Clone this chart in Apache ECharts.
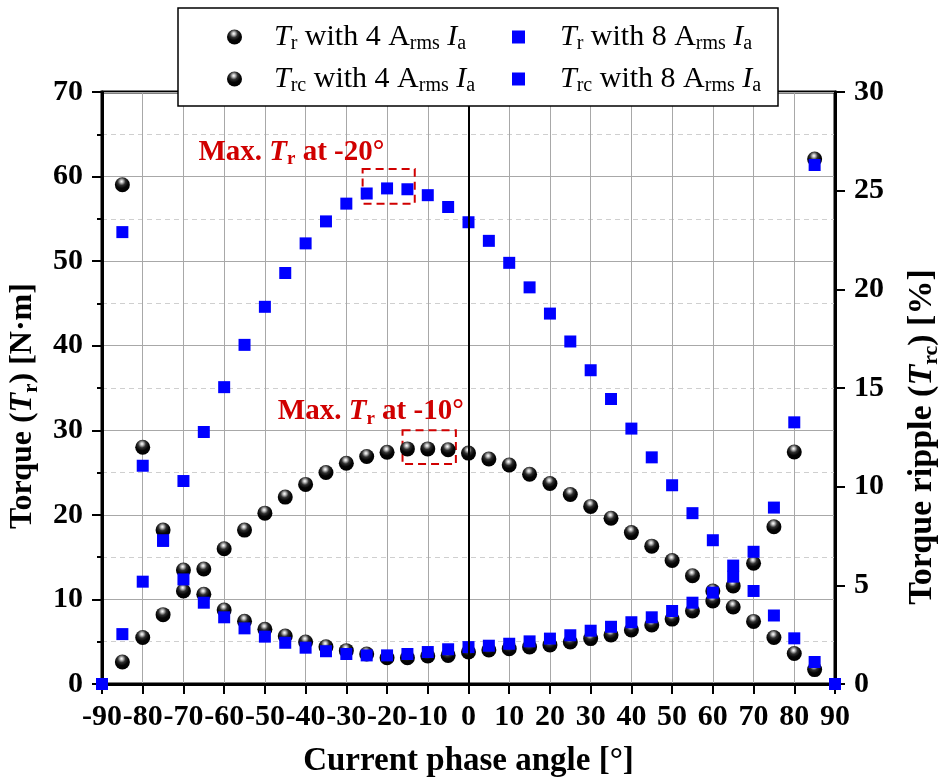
<!DOCTYPE html>
<html><head><meta charset="utf-8">
<script src="https://cdn.jsdelivr.net/npm/echarts@6/dist/echarts.min.js"></script>
<style>html,body{margin:0;padding:0;background:#fff}#c{width:941px;height:781px}</style>
</head><body><div id="c"></div>
<script>
// ---- data ----
const angles = [-90,-85,-80,-75,-70,-65,-60,-55,-50,-45,-40,-35,-30,-25,-20,-15,-10,-5,0,5,10,15,20,25,30,35,40,45,50,55,60,65,70,75,80,85,90];
const trWith4A = [null,2.6,5.5,8.2,11.0,13.6,16.0,18.2,20.2,22.1,23.6,25.0,26.1,26.9,27.4,27.8,27.8,27.7,27.3,26.6,25.9,24.8,23.7,22.4,21.0,19.6,17.9,16.3,14.6,12.8,11.0,9.1,7.4,5.5,3.6,1.7,null];
const trcWith4A = [null,25.3,12.0,7.8,5.78,4.55,3.75,3.18,2.77,2.43,2.13,1.89,1.69,1.52,1.33,1.33,1.42,1.45,1.62,1.72,1.79,1.88,1.98,2.13,2.30,2.48,2.74,2.99,3.29,3.70,4.21,4.97,6.12,7.97,11.76,26.6,null];
const trWith8A = [0,5.9,12.1,17.0,24.0,29.8,35.1,40.1,44.6,48.6,52.1,54.7,56.8,58.0,58.6,58.5,57.8,56.4,54.6,52.4,49.8,46.9,43.8,40.5,37.1,33.7,30.2,26.8,23.5,20.2,17.0,14.0,11.0,8.1,5.4,2.6,0];
const trcWith8A = [null,22.9,11.06,7.25,5.3,4.12,3.38,2.82,2.40,2.09,1.84,1.66,1.52,1.45,1.45,1.52,1.62,1.76,1.87,1.94,2.04,2.16,2.30,2.47,2.70,2.90,3.13,3.38,3.70,4.12,4.63,5.44,6.70,8.94,13.26,26.3,null];
const seriesNames = ['Tr with 4 Arms Ia','Trc with 4 Arms Ia','Tr with 8 Arms Ia','Trc with 8 Arms Ia'];
const legendTexts = {
  'Tr with 4 Arms Ia': '{g| }{it|T}{sub|r}{n| with 4 A}{sub|rms}{n| }{it|I}{sub|a}',
  'Trc with 4 Arms Ia': '{g| }{it|T}{sub|rc}{n| with 4 A}{sub|rms}{n| }{it|I}{sub|a}',
  'Tr with 8 Arms Ia': '{g| }{it|T}{sub|r}{n| with 8 A}{sub|rms}{n| }{it|I}{sub|a}',
  'Trc with 8 Arms Ia': '{g| }{it|T}{sub|rc}{n| with 8 A}{sub|rms}{n| }{it|I}{sub|a}'
};
const peak8A = {label: 'Max. {bi|T}{bs|r} at -20°', box: [[-26, 60.9], [-13.2, 56.8]], textAt: [-43.5, 62.9]};
const peak4A = {label: 'Max. {bi|T}{bs|r} at -10°', box: [[-16.2, 30.0], [-3.1, 26.0]], textAt: [-24.0, 32.2]};

// ---- styles ----
const SERIF = "'Liberation Serif','Times New Roman',serif";
const RED = '#d00000';
const sphere = new echarts.graphic.RadialGradient(0.45, 0.28, 0.75, [
  {offset: 0, color: '#ffffff'},
  {offset: 0.12, color: '#c8c8c8'},
  {offset: 0.35, color: '#303030'},
  {offset: 0.6, color: '#050505'},
  {offset: 1, color: '#000000'}
]);
const pair = (arr) => angles.map((a, i) => [a, arr[i]]);
const boldRich = (fs, subFs) => ({
  b: {fontFamily: SERIF, fontWeight: 'bold', fontSize: fs, color: '#000', lineHeight: fs + 6},
  bi: {fontFamily: SERIF, fontWeight: 'bold', fontStyle: 'italic', fontSize: fs, color: '#000', lineHeight: fs + 6},
  bs: {fontFamily: SERIF, fontWeight: 'bold', fontSize: subFs, color: '#000', lineHeight: subFs - 5, verticalAlign: 'bottom'}
});
const annRich = {
  bi: {fontFamily: SERIF, fontWeight: 'bold', fontStyle: 'italic', fontSize: 29, color: RED, lineHeight: 34},
  bs: {fontFamily: SERIF, fontWeight: 'bold', fontSize: 19, color: RED, lineHeight: 14, verticalAlign: 'bottom'}
};
const legRich = (gap) => ({
  g: {width: gap},
  n: {fontFamily: SERIF, fontSize: 30, color: '#000', lineHeight: 34},
  it: {fontFamily: SERIF, fontStyle: 'italic', fontSize: 30, color: '#000', lineHeight: 34},
  sub: {fontFamily: SERIF, fontSize: 20, color: '#000', lineHeight: 14, verticalAlign: 'bottom'}
});
const tickLabel = {fontFamily: SERIF, fontWeight: 'bold', fontSize: 30, color: '#000'};

function annotation(p) {
  return {
    silent: true,
    symbol: 'circle', symbolSize: 0,
    label: {show: true, position: 'inside', formatter: p.label, fontFamily: SERIF, fontWeight: 'bold', fontSize: 29, color: RED, lineHeight: 34, rich: annRich},
    data: [{coord: p.textAt}]
  };
}
function box(p) {
  return {
    silent: true,
    itemStyle: {color: 'rgba(0,0,0,0)', borderColor: RED, borderWidth: 2, borderType: [8, 5]},
    label: {show: false},
    data: [[{coord: p.box[0]}, {coord: p.box[1]}]]
  };
}

const chart = echarts.init(document.getElementById('c'));
chart.setOption({
  animation: false,
  backgroundColor: '#fff',
  grid: {left: 102, right: 106, top: 92, bottom: 97, outerBoundsMode: 'none', containLabel: false,
         show: true, borderColor: '#000', borderWidth: 3, backgroundColor: 'transparent'},
  legend: [
    {orient: 'vertical', left: 227, top: 20, padding: 0, itemGap: 8, itemWidth: 15, itemHeight: 15, z: 60,
     data: [{name: seriesNames[0], icon: 'circle'}, {name: seriesNames[1], icon: 'circle'}],
     formatter: (n) => legendTexts[n], textStyle: {fontFamily: SERIF, fontSize: 30, lineHeight: 34, rich: legRich(27)}},
    {orient: 'vertical', left: 512, top: 20, padding: 0, itemGap: 8, itemWidth: 13, itemHeight: 13, z: 60,
     data: [{name: seriesNames[2], icon: 'rect'}, {name: seriesNames[3], icon: 'rect'}],
     formatter: (n) => legendTexts[n], textStyle: {fontFamily: SERIF, fontSize: 30, lineHeight: 34, rich: legRich(30)}}
  ],
  graphic: [{type: 'rect', z: 50, shape: {x: 178, y: 8, width: 600, height: 98}, style: {fill: '#fff', stroke: '#000', lineWidth: 1.5}}],
  xAxis: {
    type: 'value', min: -90, max: 90, interval: 10,
    axisLine: {show: true, onZero: false, lineStyle: {color: '#000', width: 3}},
    axisTick: {show: true, length: 10, lineStyle: {color: '#000', width: 2}},
    axisLabel: Object.assign({margin: 18}, tickLabel),
    splitLine: {show: true, lineStyle: {color: '#a8a8a8', width: 1}},
    name: '{b|Current phase angle [°]}', nameLocation: 'middle', nameGap: 58,
    nameTextStyle: {rich: boldRich(33, 22)}
  },
  yAxis: [
    {
      type: 'value', min: 0, max: 70, interval: 10, position: 'left',
      axisLine: {show: true, onZero: false, lineStyle: {color: '#000', width: 3}},
      axisTick: {show: true, length: 10, lineStyle: {color: '#000', width: 2}},
      minorTick: {show: true, splitNumber: 2, length: 5, lineStyle: {color: '#000', width: 2}},
      axisLabel: Object.assign({margin: 19}, tickLabel),
      splitLine: {show: true, lineStyle: {color: '#a8a8a8', width: 1}},
      minorSplitLine: {show: true, lineStyle: {color: '#cfcfcf', width: 1, type: [5, 4]}},
      name: '{b|Torque (}{bi|T}{bs|r}{b|) [N·m]}', nameLocation: 'middle', nameGap: 54,
      nameTextStyle: {rich: boldRich(32, 21), padding: [0, 36, 0, 0]}
    },
    {
      type: 'value', min: 0, max: 30, interval: 5, position: 'right',
      axisLine: {show: true, onZero: false, lineStyle: {color: '#000', width: 3}},
      axisTick: {show: true, length: 10, lineStyle: {color: '#000', width: 2}},
      axisLabel: Object.assign({margin: 19}, tickLabel),
      splitLine: {show: false},
      name: '{b|Torque ripple (}{bi|T}{bs|rc}{b|) [%]}', nameLocation: 'middle', nameGap: 67,
      nameTextStyle: {rich: boldRich(34, 22), padding: [0, 98, 0, 0]}
    }
  ],
  series: [
    {name: seriesNames[0], type: 'scatter', yAxisIndex: 0, symbol: 'circle', symbolSize: 15, itemStyle: {color: sphere, opacity: 1}, data: pair(trWith4A), z: 3,
     markLine: {silent: true, symbol: ['none', 'none'], label: {show: false}, lineStyle: {color: '#000', width: 2, type: 'solid'}, data: [{xAxis: 0}]},
     markArea: box(peak4A), markPoint: annotation(peak4A)},
    {name: seriesNames[1], type: 'scatter', yAxisIndex: 1, symbol: 'circle', symbolSize: 15, itemStyle: {color: sphere, opacity: 1}, data: pair(trcWith4A), z: 3},
    {name: seriesNames[2], type: 'scatter', yAxisIndex: 0, symbol: 'rect', symbolSize: 12, itemStyle: {color: '#0000ff', opacity: 1}, data: pair(trWith8A), z: 4,
     markArea: box(peak8A), markPoint: annotation(peak8A)},
    {name: seriesNames[3], type: 'scatter', yAxisIndex: 1, symbol: 'rect', symbolSize: 12, itemStyle: {color: '#0000ff', opacity: 1}, data: pair(trcWith8A), z: 4}
  ]
});
</script></body></html>
